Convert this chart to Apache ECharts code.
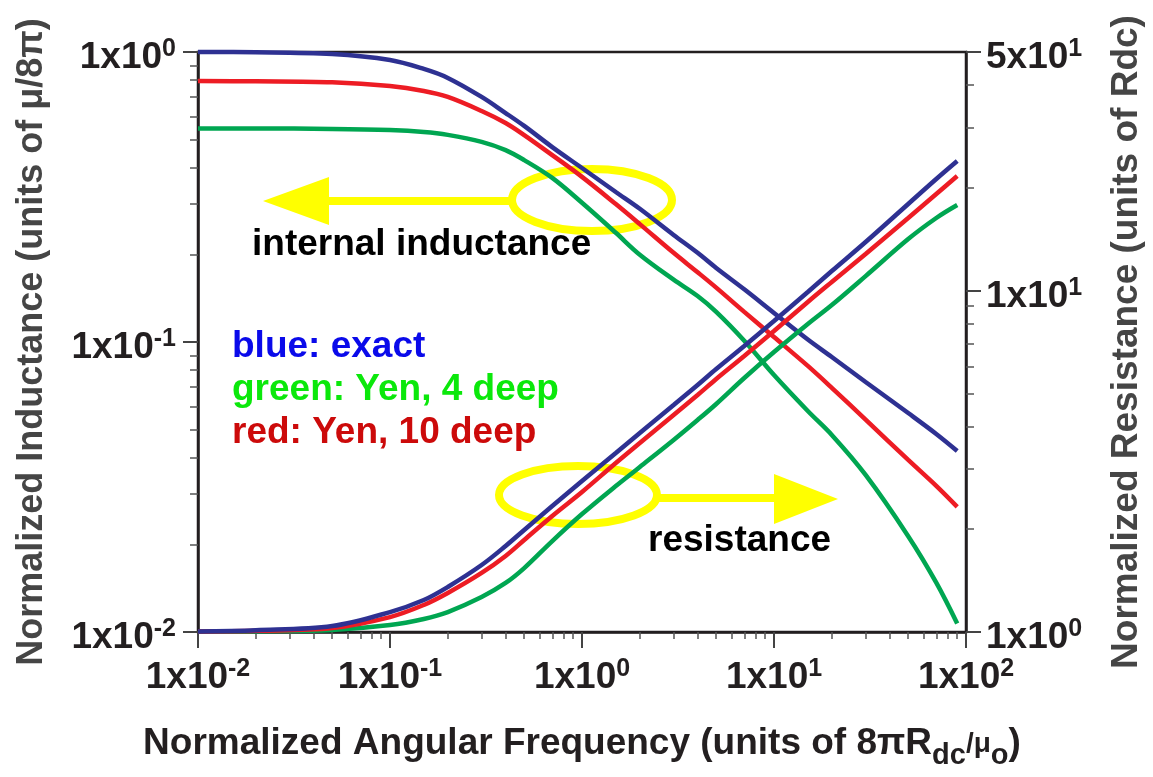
<!DOCTYPE html>
<html>
<head>
<meta charset="utf-8">
<title>Internal inductance and resistance vs frequency</title>
<script src="https://cdn.jsdelivr.net/npm/echarts@6/dist/echarts.min.js"></script>
<style>
  html, body { margin: 0; padding: 0; background: #fff; }
  #main { width: 1153px; height: 777px; }
</style>
</head>
<body>
<div id="main"></div>
<script>
// normalized angular frequency (units of 8*pi*Rdc/mu0)
const freq = [0.01, 0.02, 0.05, 0.1, 0.15, 0.2, 0.3, 0.4, 0.5, 0.7, 1, 1.5, 2, 3, 4, 5, 7, 10, 15, 20, 30, 50, 70, 90];

// internal inductance (units of mu/8pi), left axis
const indExact = [1.0, 0.998, 0.984, 0.938, 0.874, 0.814, 0.700, 0.616, 0.556, 0.470, 0.398, 0.329, 0.288, 0.234, 0.203, 0.180, 0.152, 0.126, 0.102, 0.0888, 0.0728, 0.0569, 0.0482, 0.0421];
const indYen10 = [0.794, 0.792, 0.786, 0.763, 0.734, 0.700, 0.626, 0.569, 0.517, 0.441, 0.371, 0.299, 0.255, 0.203, 0.174, 0.154, 0.127, 0.104, 0.0827, 0.0695, 0.0540, 0.0392, 0.0319, 0.0270];
const indYen4 = [0.545, 0.545, 0.543, 0.538, 0.530, 0.518, 0.490, 0.459, 0.424, 0.368, 0.302, 0.238, 0.200, 0.164, 0.144, 0.127, 0.101, 0.0769, 0.0578, 0.0478, 0.0348, 0.0214, 0.0148, 0.0107];

// resistance (units of Rdc), right axis
const resExact = [1.004, 1.012, 1.041, 1.144, 1.241, 1.355, 1.571, 1.786, 1.990, 2.339, 2.769, 3.344, 3.828, 4.624, 5.290, 5.893, 6.883, 8.147, 9.906, 11.41, 13.88, 17.94, 21.23, 23.97];
const resYen10 = [1.003, 1.008, 1.027, 1.106, 1.200, 1.301, 1.489, 1.670, 1.860, 2.187, 2.571, 3.126, 3.577, 4.321, 4.945, 5.509, 6.433, 7.615, 9.261, 10.60, 12.80, 16.32, 19.18, 21.66];
const resYen4 = [1.002, 1.005, 1.014, 1.048, 1.092, 1.144, 1.266, 1.392, 1.539, 1.847, 2.216, 2.677, 3.043, 3.651, 4.178, 4.655, 5.546, 6.607, 7.984, 9.075, 11.03, 14.16, 16.32, 17.81];

// ticks
const xMajor = [0.01, 0.1, 1, 10, 100];
const xMinor = [0.02, 0.03, 0.04, 0.05, 0.06, 0.07, 0.08, 0.09,
  0.2, 0.3, 0.4, 0.5, 0.6, 0.7, 0.8, 0.9, 2, 3, 4, 5, 6, 7, 8, 9,
  20, 30, 40, 50, 60, 70, 80, 90];
const leftMajor = [0.01, 0.1, 1];
const leftMinor = [0.02, 0.03, 0.04, 0.05, 0.06, 0.07, 0.08, 0.09,
  0.2, 0.3, 0.4, 0.5, 0.6, 0.7, 0.8, 0.9];
const rightMajor = [1, 10, 50];
const rightMinor = [2, 3, 4, 5, 6, 7, 8, 9, 20, 30, 40];

const FONT = '"Liberation Sans", Arial, sans-serif';
const INK = '#231f20';
const TITLE_GREY = '#454545';

const cBlue = '#2e3192';
const cRed = '#ed1c24';
const cGreen = '#00a651';

function sci(v) {
  const e = Math.floor(Math.log10(v) + 1e-9);
  const m = Math.round(v / Math.pow(10, e));
  return '{b|' + m + 'x10}{s|' + e + '}';
}

const labelRich = {
  b: { fontSize: 37, fontWeight: 'bold', fontFamily: FONT, color: INK, lineHeight: 42 },
  s: { fontSize: 25, fontWeight: 'bold', fontFamily: FONT, color: INK, lineHeight: 24, verticalAlign: 'top' }
};

function majorAxis(extra) {
  return Object.assign({
    type: 'log',
    logBase: 10,
    splitLine: { show: false },
    axisLine: { show: true, lineStyle: { color: INK, width: 2.5 } },
    axisTick: { show: true, length: 15, lineStyle: { color: '#444', width: 2 } },
    axisLabel: { formatter: sci, rich: labelRich, fontFamily: FONT }
  }, extra);
}

function minorAxis(extra) {
  return Object.assign({
    type: 'log',
    logBase: 10,
    splitLine: { show: false },
    axisLine: { show: false },
    axisLabel: { show: false },
    axisTick: { show: true, length: 7, lineStyle: { color: '#555', width: 1.5 } }
  }, extra);
}

const pairs = (ys) => freq.map((f, i) => [f, ys[i]]);

function curve(name, color, ys, yIdx) {
  return {
    name: name,
    type: 'line',
    xAxisIndex: 0,
    yAxisIndex: yIdx,
    data: pairs(ys),
    showSymbol: false,
    smooth: 0.35,
    clip: false,
    lineStyle: { color: color, width: 4.5 },
    itemStyle: { color: color },
    emphasis: { disabled: true },
    z: 3
  };
}

const yellow = '#ffff00';
const bigText = 'bold 37px ' + FONT;

const myChart = echarts.init(document.getElementById('main'));
const option = {
  backgroundColor: '#fff',
  animation: false,
  grid: {
    left: 198, right: 183, top: 52, bottom: 145,
    show: true, borderColor: INK, borderWidth: 2.5
  },
  xAxis: [
    majorAxis({
      position: 'bottom', min: 0.01, max: 100,
      axisTick: { show: true, length: 16, customValues: xMajor, lineStyle: { color: '#444', width: 2 } },
      axisLabel: { customValues: xMajor, formatter: sci, rich: labelRich, margin: 25 },
      name: 'Normalized Angular Frequency (units of 8πR{sub|dc}{sm|/μ}{sub|o})',
      nameLocation: 'middle',
      nameGap: 86,
      nameTextStyle: {
        fontSize: 37, fontWeight: 'bold', fontFamily: FONT, color: INK, lineHeight: 52,
        rich: {
          sub: { fontSize: 29, fontWeight: 'bold', fontFamily: FONT, color: INK, lineHeight: 26, verticalAlign: 'bottom' },
          sm: { fontSize: 28, fontWeight: 'bold', fontFamily: FONT, color: INK, lineHeight: 52 }
        }
      }
    }),
    minorAxis({
      position: 'bottom', min: 0.01, max: 100,
      axisTick: { show: true, length: 7, customValues: xMinor, lineStyle: { color: '#555', width: 1.5 } }
    })
  ],
  yAxis: [
    majorAxis({
      position: 'left', min: 0.01, max: 1,
      axisTick: { show: true, length: 15, customValues: leftMajor, lineStyle: { color: '#444', width: 2 } },
      axisLabel: { customValues: leftMajor, formatter: sci, rich: labelRich, margin: 22, padding: [12, 0, 0, 0] },
      name: 'Normalized Inductance (units of μ/8π)',
      nameLocation: 'middle',
      nameRotate: 90,
      nameGap: 148,
      nameTextStyle: { fontSize: 36, fontWeight: 'bold', fontFamily: FONT, color: TITLE_GREY }
    }),
    minorAxis({
      position: 'left', min: 0.01, max: 1,
      axisTick: { show: true, length: 8, customValues: leftMinor, lineStyle: { color: '#555', width: 1.5 } }
    }),
    majorAxis({
      position: 'right', min: 1, max: 50,
      axisTick: { show: true, length: 15, customValues: rightMajor, lineStyle: { color: '#444', width: 2 } },
      axisLabel: { customValues: rightMajor, formatter: sci, rich: labelRich, margin: 20, padding: [12, 0, 0, 0] },
      name: 'Normalized Resistance (units of Rdc)',
      nameLocation: 'middle',
      nameRotate: 90,
      nameGap: 142,
      nameTextStyle: { fontSize: 37, fontWeight: 'bold', fontFamily: FONT, color: TITLE_GREY }
    }),
    minorAxis({
      position: 'right', min: 1, max: 50,
      axisTick: { show: true, length: 8, customValues: rightMinor, lineStyle: { color: '#555', width: 1.5 } }
    })
  ],
  series: [
    curve('green: Yen, 4 deep', cGreen, indYen4, 0),
    curve('red: Yen, 10 deep', cRed, indYen10, 0),
    curve('blue: exact', cBlue, indExact, 0),
    curve('green: Yen, 4 deep R', cGreen, resYen4, 2),
    curve('red: Yen, 10 deep R', cRed, resYen10, 2),
    curve('blue: exact R', cBlue, resExact, 2)
  ],
  graphic: [
    // internal inductance pointer
    { type: 'ellipse', z: 1, shape: { cx: 592, cy: 200, rx: 80, ry: 31 }, style: { fill: 'none', stroke: yellow, lineWidth: 8 } },
    { type: 'line', z: 1, shape: { x1: 320, y1: 201, x2: 512, y2: 201 }, style: { stroke: yellow, lineWidth: 8 } },
    { type: 'polygon', z: 1, shape: { points: [[263, 201], [329, 177], [329, 225]] }, style: { fill: yellow } },
    { type: 'text', z: 5, style: { x: 252, y: 245, text: 'internal inductance', font: bigText, fill: '#000', textVerticalAlign: 'middle' } },
    // resistance pointer
    { type: 'ellipse', z: 1, shape: { cx: 578, cy: 495, rx: 79, ry: 29 }, style: { fill: 'none', stroke: yellow, lineWidth: 8 } },
    { type: 'line', z: 1, shape: { x1: 657, y1: 498, x2: 780, y2: 498 }, style: { stroke: yellow, lineWidth: 8 } },
    { type: 'polygon', z: 1, shape: { points: [[774, 474], [838, 499], [774, 524]] }, style: { fill: yellow } },
    { type: 'text', z: 5, style: { x: 648, y: 541, text: 'resistance', font: bigText, fill: '#000', textVerticalAlign: 'middle' } },
    // colour key
    { type: 'text', z: 5, style: { x: 232, y: 347, text: 'blue: exact', font: bigText, fill: '#0a0aea', textVerticalAlign: 'middle' } },
    { type: 'text', z: 5, style: { x: 232, y: 390, text: 'green: Yen, 4 deep', font: bigText, fill: '#0be80b', textVerticalAlign: 'middle' } },
    { type: 'text', z: 5, style: { x: 232, y: 433, text: 'red: Yen, 10 deep', font: bigText, fill: '#cc0a0a', textVerticalAlign: 'middle' } }
  ]
};

myChart.setOption(option);
</script>
</body>
</html>
